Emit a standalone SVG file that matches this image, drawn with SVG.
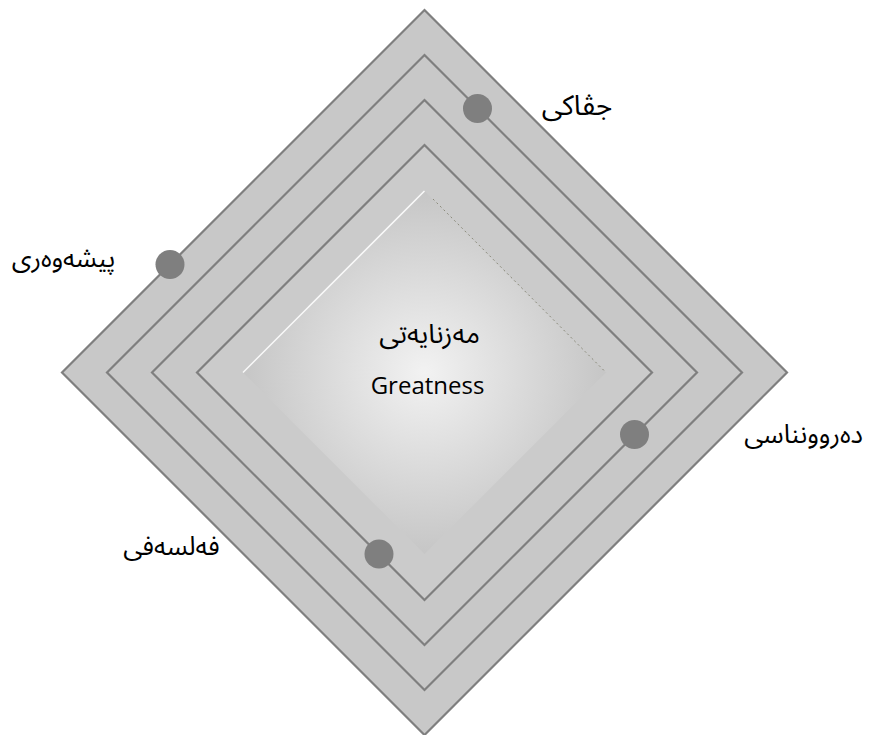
<svg xmlns="http://www.w3.org/2000/svg" width="869" height="735" viewBox="0 0 869 735">
<defs>
<radialGradient id="g" cx="424.5" cy="372.5" r="181" gradientUnits="userSpaceOnUse">
<stop offset="0" stop-color="#f2f2f2"/>
<stop offset="1" stop-color="#c6c6c6"/>
</radialGradient>
<style>
.band{fill:#c8c8c8;stroke:#7f7f7f;stroke-width:2.2}
.dot{fill:#7f7f7f}
.ar{font-family:"Noto Sans Arabic","DejaVu Sans",sans-serif;font-size:26px;fill:#000}
.en{font-family:"Open Sans","Noto Sans",sans-serif;font-size:24px;fill:#000}
</style>
</defs>
<rect width="869" height="735" fill="#fff"/>
<g id="ring1"><polygon class="band" points="424.5,10 787,372.5 424.5,735 62,372.5"/></g>
<g id="ring2"><polygon class="band" points="424.5,55 742,372.5 424.5,690 107,372.5"/></g>
<g id="ring3"><polygon class="band" points="424.5,100 697,372.5 424.5,645 152,372.5"/></g>
<g id="ring4"><polygon class="band" points="424.5,145 652,372.5 424.5,600 197,372.5" style="fill:#cbcbcb"/></g>
<g id="core">
<polygon points="424.5,191 606,372.5 424.5,554 243,372.5" fill="url(#g)"/>
<line x1="243" y1="372.5" x2="424.5" y2="191" stroke="#fafafa" stroke-width="1.5"/>
<line x1="433" y1="199" x2="606" y2="372.5" stroke="#8a8a7a" stroke-width="1" stroke-dasharray="2,3"/>
<text class="ar" x="429.5" y="343" text-anchor="middle" style="font-size:27px">مەزنایەتی</text>
<text class="en" x="427.5" y="394" text-anchor="middle">Greatness</text>
</g>
<g id="n-social"><circle class="dot" cx="477.5" cy="108.5" r="14.5"/><text class="ar" x="577" y="115" text-anchor="middle" style="font-size:28px">جڤاکی</text></g>
<g id="n-work"><circle class="dot" cx="170" cy="264.5" r="14.5"/><text class="ar" x="63.5" y="267" text-anchor="middle">پیشەوەری</text></g>
<g id="n-psych"><circle class="dot" cx="634.5" cy="434.5" r="14.5"/><text class="ar" x="803.5" y="443" text-anchor="middle">دەروونناسی</text></g>
<g id="n-phil"><circle class="dot" cx="379" cy="554" r="14.5"/><text class="ar" x="171.5" y="555" text-anchor="middle">فەلسەفی</text></g>
<g id="connectors"/>
</svg>
